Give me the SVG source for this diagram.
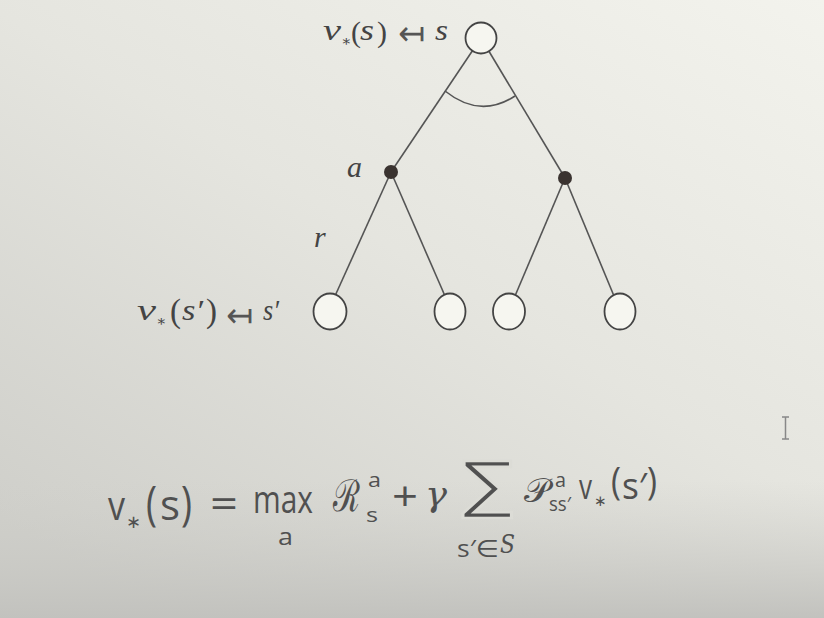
<svg xmlns="http://www.w3.org/2000/svg" width="824" height="618" viewBox="0 0 824 618">
<defs>
<linearGradient id="bg" x1="1" y1="0" x2="0.2" y2="1">
<stop offset="0" stop-color="#f3f3ed"/>
<stop offset="0.5" stop-color="#e5e5df"/>
<stop offset="1" stop-color="#cfcfca"/>
</linearGradient>
<linearGradient id="bottom" x1="0" y1="0" x2="0" y2="1">
<stop offset="0" stop-color="#cfcfca" stop-opacity="0"/>
<stop offset="1" stop-color="#c2c2be" stop-opacity="1"/>
</linearGradient>
<style>
.edge{stroke:#555;stroke-width:1.6;fill:none}
.state{fill:#f6f6f0;stroke:#444;stroke-width:1.8}
.action{fill:#3a3330;stroke:none}
.lab{font-family:"Liberation Serif","DejaVu Serif",serif;font-style:italic;fill:#444;font-size:30px}
.up{font-family:"Liberation Serif","DejaVu Serif",serif;fill:#444}
.arr{font-family:"DejaVu Sans",sans-serif;fill:#555;font-size:34px}
.eq{font-family:"Open Sans","Noto Sans","DejaVu Sans",sans-serif;fill:#505050}
.sym{font-family:"DejaVu Sans",sans-serif;fill:#505050}
.scr{font-family:"DejaVu Serif","Noto Sans",serif;fill:#505050}
.cal{font-family:"DejaVu Serif","Noto Sans",serif;font-style:italic;fill:#505050}
.thin{stroke:#dcdcd6;stroke-width:2.6}
</style>
</defs>
<rect width="824" height="618" fill="url(#bg)"/>
<rect y="480" width="824" height="138" fill="url(#bottom)"/>
<g id="connectors">
<line class="edge" x1="481" y1="38" x2="391" y2="172"/>
<line class="edge" x1="481" y1="38" x2="565" y2="178"/>
<line class="edge" x1="391" y1="172" x2="335" y2="296"/>
<line class="edge" x1="391" y1="172" x2="445" y2="296"/>
<line class="edge" x1="565" y1="178" x2="515" y2="296"/>
<line class="edge" x1="565" y1="178" x2="614" y2="296"/>
<path class="edge" d="M445,91 Q480,119 515,96"/>
</g>
<g id="root">
<circle class="state" cx="481" cy="38" r="15.5"/>
<text class="lab" x="323" y="40" textLength="18" lengthAdjust="spacingAndGlyphs">v</text>
<text class="up" x="341" y="46" font-size="15">∗</text>
<text class="up" x="351" y="42" font-size="30">(</text>
<text class="lab" x="360" y="40" textLength="14" lengthAdjust="spacingAndGlyphs">s</text>
<text class="up" x="377" y="42" font-size="30">)</text>
<text class="arr" x="398" y="45" textLength="27" lengthAdjust="spacingAndGlyphs">↤</text>
<text class="lab" x="435" y="40" textLength="13" lengthAdjust="spacingAndGlyphs">s</text>
</g>
<g id="action-left">
<circle class="action" cx="391" cy="172" r="7"/>
<text class="lab" x="347" y="177">a</text>
<text class="lab" x="314" y="247">r</text>
</g>
<g id="action-right">
<circle class="action" cx="565" cy="178" r="7"/>
</g>
<g id="leaf1">
<ellipse class="state" cx="330" cy="311.5" rx="16.5" ry="18"/>
<text class="lab" x="137" y="320" textLength="19" lengthAdjust="spacingAndGlyphs">v</text>
<text class="up" x="156" y="326" font-size="15">∗</text>
<text class="up" x="170" y="322" font-size="33">(</text>
<text class="lab" x="182" y="320" textLength="21" lengthAdjust="spacingAndGlyphs">s′</text>
<text class="up" x="206" y="322" font-size="33">)</text>
<text class="arr" x="226" y="327" textLength="27" lengthAdjust="spacingAndGlyphs">↤</text>
<text class="lab" x="263" y="320" textLength="16" lengthAdjust="spacingAndGlyphs">s′</text>
</g>
<g id="leaf2"><ellipse class="state" cx="450" cy="311.5" rx="15.5" ry="18"/></g>
<g id="leaf3"><ellipse class="state" cx="509" cy="311.5" rx="16" ry="18"/></g>
<g id="leaf4"><ellipse class="state" cx="620" cy="311.5" rx="15.5" ry="18"/></g>
<g id="equation">
<text class="eq" x="108" y="520" font-size="40" textLength="17" lengthAdjust="spacingAndGlyphs">v</text>
<text class="sym" x="126" y="528" font-size="18">∗</text>
<text class="eq" x="146" y="520" font-size="48" textLength="11" lengthAdjust="spacingAndGlyphs">(</text>
<text class="eq" x="160" y="520" font-size="42" textLength="20" lengthAdjust="spacingAndGlyphs">s</text>
<text class="eq" x="181" y="520" font-size="48" textLength="11" lengthAdjust="spacingAndGlyphs">)</text>
<text class="eq" x="210" y="518" font-size="40" textLength="28" lengthAdjust="spacingAndGlyphs">=</text>
<text class="eq" x="253" y="513" font-size="38" textLength="60" lengthAdjust="spacingAndGlyphs">max</text>
<text class="eq" x="278" y="545" font-size="24" textLength="15" lengthAdjust="spacingAndGlyphs">a</text>
<text class="scr" x="333" y="511" font-size="44" textLength="27" lengthAdjust="spacingAndGlyphs">ℛ</text>
<text class="eq" x="368" y="487" font-size="20" textLength="13" lengthAdjust="spacingAndGlyphs">a</text>
<text class="eq" x="366" y="522" font-size="20" textLength="12" lengthAdjust="spacingAndGlyphs">s</text>
<text class="eq" x="392" y="511" font-size="40" textLength="26" lengthAdjust="spacingAndGlyphs">+</text>
<text class="cal" x="425" y="506" font-size="34" textLength="22" lengthAdjust="spacingAndGlyphs">γ</text>
<text class="sym thin" x="462" y="506" font-size="63" textLength="51" lengthAdjust="spacingAndGlyphs">∑</text>
<text class="eq" x="457" y="557" font-size="24" textLength="42" lengthAdjust="spacingAndGlyphs">s′∈</text>
<text class="cal" x="500" y="553" font-size="26" textLength="15" lengthAdjust="spacingAndGlyphs">S</text>
<text class="scr" x="524" y="502" font-size="34" textLength="26" lengthAdjust="spacingAndGlyphs">𝒫</text>
<text class="eq" x="555" y="487" font-size="20" textLength="11" lengthAdjust="spacingAndGlyphs">a</text>
<text class="eq" x="549" y="511" font-size="20" textLength="22" lengthAdjust="spacingAndGlyphs">ss′</text>
<text class="eq" x="579" y="499" font-size="34" textLength="13" lengthAdjust="spacingAndGlyphs">v</text>
<text class="sym" x="594" y="506" font-size="15">∗</text>
<text class="eq" x="611" y="495" font-size="38" textLength="10" lengthAdjust="spacingAndGlyphs">(</text>
<text class="eq" x="622" y="499" font-size="36" textLength="25" lengthAdjust="spacingAndGlyphs">s′</text>
<text class="eq" x="647" y="495" font-size="38" textLength="10" lengthAdjust="spacingAndGlyphs">)</text>
</g>
<path d="M782,417h7M785.5,417v22M782,439h7" stroke="#888" stroke-width="1.5" fill="none"/>
</svg>
